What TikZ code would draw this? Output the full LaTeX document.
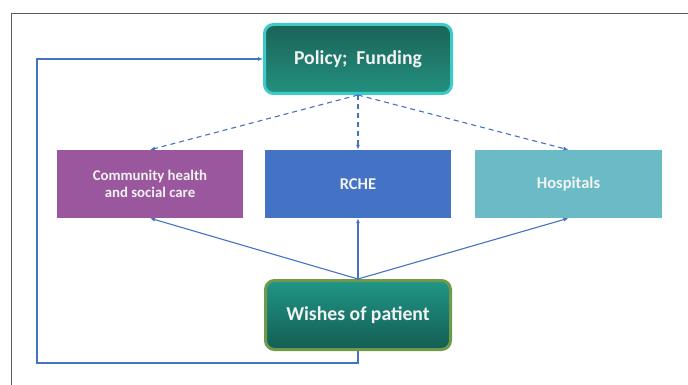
\documentclass[tikz,border=0pt]{standalone}
\usepackage{fontspec}
\setmainfont{Carlito}
\usetikzlibrary{arrows.meta}
\definecolor{linkblue}{HTML}{4472C4}
\definecolor{framegray}{HTML}{5A5A5A}
\definecolor{purplebox}{HTML}{9B579E}
\definecolor{bluebox}{HTML}{4472C4}
\definecolor{tealbox}{HTML}{6ABBC5}
\definecolor{poltop}{HTML}{1B6357}
\definecolor{polbot}{HTML}{23907F}
\definecolor{polborder}{HTML}{3CCACA}
\definecolor{wishtop}{HTML}{1F9686}
\definecolor{wishbot}{HTML}{145D53}
\definecolor{wishborder}{HTML}{6F9A4A}
\definecolor{softwhite}{HTML}{F2F2F2}
\tikzset{
  bigbox/.style={rounded corners=9pt, line width=3pt, minimum height=69pt,
    text=softwhite, font=\bfseries\fontsize{19.7}{23}\selectfont, align=center, inner sep=0pt},
  carebox/.style={minimum width=186pt, minimum height=68pt, inner sep=0pt,
    text=softwhite, font=\bfseries\fontsize{16.5}{19}\selectfont, align=center},
  link/.style={draw=linkblue, line width=1.1pt, -{Latex[length=5pt,width=4pt]}},
  dlink/.style={link, dash pattern=on 5pt off 4pt},
}
\begin{document}
\begin{tikzpicture}[x=1pt,y=-1pt]
\useasboundingbox (0,0) rectangle (688,385);
\fill[white] (0,0) rectangle (688,385);
\draw[framegray, line width=1.5pt] (11.5,386) -- (11.5,13.3) -- (689,13.3);

\node[bigbox, draw=polborder, top color=poltop, bottom color=polbot, minimum width=187pt]
  (pol) at (358,59) {Policy;\ \ Funding};
\node[bigbox, draw=wishborder, top color=wishtop, bottom color=wishbot, minimum width=185pt]
  (wish) at (358,315) {Wishes of patient};

\node[carebox, fill=purplebox, font=\bfseries\fontsize{14.8}{17.5}\selectfont]
  (comm) at (150,184) {Community health\\and social care};
\node[carebox, fill=bluebox] (rche) at (358,184) {RCHE};
\node[carebox, fill=tealbox, minimum width=187pt] (hosp) at (568.5,184) {Hospitals};

\draw[dlink] (pol.south) -- (comm.north);
\draw[dlink] (pol.south) -- (rche.north);
\draw[dlink] (pol.south) -- (hosp.north);

\draw[link] (wish.north) -- (comm.south);
\draw[link] (wish.north) -- (rche.south);
\draw[link] (wish.north) -- (hosp.south);

\coordinate (fb1) at (358,363);
\coordinate (fb2) at (37,363);
\coordinate (fb3) at (37,59);
\draw[link] (wish.south) -- (fb1) -- (fb2) -- (fb3) -- (pol.west);
\end{tikzpicture}
\end{document}
